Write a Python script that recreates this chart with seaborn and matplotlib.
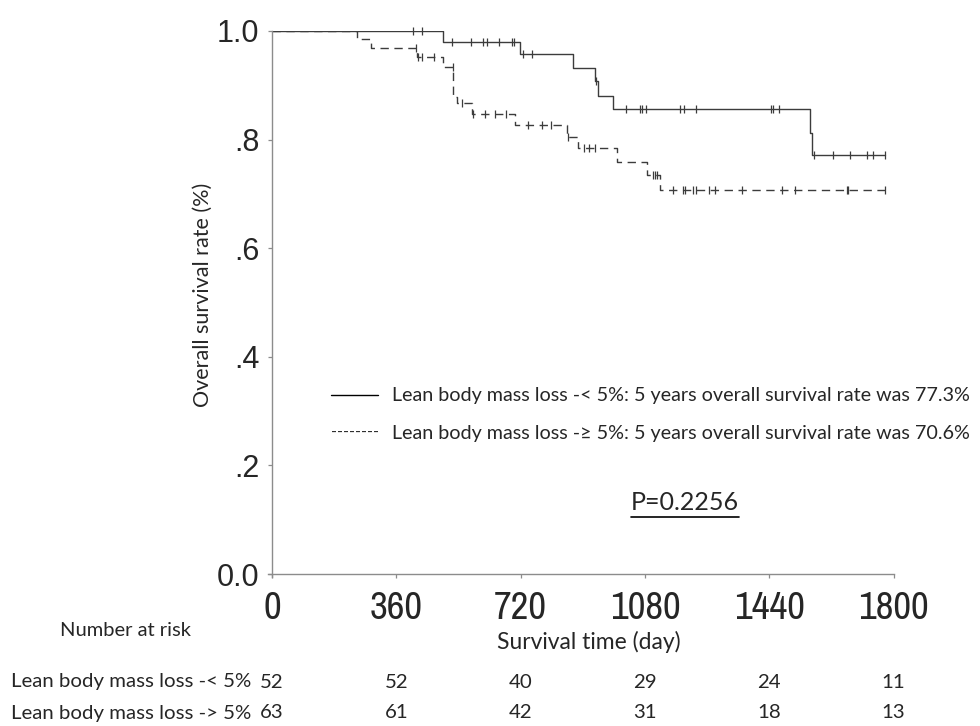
import numpy as np
import matplotlib
matplotlib.use("Agg")
import matplotlib.pyplot as plt
import matplotlib.transforms as mtransforms
from matplotlib.lines import Line2D
import seaborn as sns

# Kaplan-Meier steps (day, survival after the drop)
lo_event_days = [494, 718, 871, 935, 945, 987, 1558, 1565]
lo_event_surv = [0.980, 0.957, 0.931, 0.907, 0.880, 0.856, 0.813, 0.772]
lo_censor_days = [409, 433, 520, 575, 612, 623, 658, 694, 701, 726, 752, 939,
                  1024, 1066, 1071, 1083, 1183, 1193, 1228, 1444, 1452, 1469,
                  1570, 1625, 1674, 1724, 1740, 1775]

hi_event_days = [245, 286, 419, 496, 525, 535, 578, 704, 853, 887, 1000, 1087, 1124]
hi_event_surv = [0.985, 0.969, 0.953, 0.934, 0.879, 0.867, 0.847, 0.827, 0.805,
                 0.785, 0.759, 0.735, 0.707]
hi_censor_days = [416, 424, 435, 469, 523, 549, 583, 617, 646, 678, 742, 781, 807,
                  858, 904, 919, 935, 1104, 1109, 1116, 1162, 1189, 1196, 1218,
                  1228, 1266, 1283, 1360, 1476, 1515, 1664, 1669, 1775]

x_ticks = [0, 360, 720, 1080, 1440, 1800]
y_ticks = [0.0, 0.2, 0.4, 0.6, 0.8, 1.0]
y_tick_labels = ["0.0", ".2", ".4", ".6", ".8", "1.0"]

lo_label = "Lean body mass loss -< 5%"
hi_label = "Lean body mass loss -> 5%"
lo_at_risk = [52, 52, 40, 29, 24, 11]
hi_at_risk = [63, 61, 42, 31, 18, 13]

legend_lo = "Lean body mass loss -< 5%: 5 years overall survival rate was 77.3%"
legend_hi = "Lean body mass loss -\u2265 5%: 5 years overall survival rate was 70.6%"
p_text = "P=0.2256"

W, H = 980, 726
sns.set_theme(style="white")
text_font = ["Lato", "DejaVu Sans"]
plt.rcParams["font.family"] = text_font

fig = plt.figure(figsize=(W / 100, H / 100), dpi=100)
ax = fig.add_axes([272 / W, 1 - 574 / H, (893.5 - 272) / W, (574 - 31) / H])

curve_color = "#3c3c3c"
axis_color = "#8c8c8c"


def step_table(days, surv, censors):
    end = max(censors)
    xs = [0] + days + [end]
    ys = [1.0] + surv + [surv[-1]]
    return xs, ys


def surv_at(days, surv, t):
    idx = np.searchsorted(days, t, side="right")
    return 1.0 if idx == 0 else surv[idx - 1]


for days, surv, cens, dash in [
    (lo_event_days, lo_event_surv, lo_censor_days, None),
    (hi_event_days, hi_event_surv, hi_censor_days, (6, 4)),
]:
    xs, ys = step_table(days, surv, cens)
    line = sns.lineplot(x=xs, y=ys, ax=ax, drawstyle="steps-post", color=curve_color,
                        linewidth=1.0, estimator=None, sort=False)
    if dash is not None:
        line.lines[-1].set_dashes(dash)
    cy = [surv_at(days, surv, t) for t in cens]
    ax.plot(cens, cy, linestyle="none", marker="|", markersize=6,
            markeredgewidth=0.9, color=curve_color, clip_on=False)

ax.set_xlim(0, 1800)
ax.set_ylim(0, 1)
ax.set_xticks(x_ticks)
ax.set_xticklabels([str(v) for v in x_ticks], fontsize=28,
                   family=["Liberation Sans Narrow", "Archivo Narrow", "DejaVu Sans"])
ax.set_yticks(y_ticks)
ax.set_yticklabels(y_tick_labels, fontsize=22, family=["Liberation Sans"])
ax.tick_params(axis="both", direction="out", length=3, width=0.9, color=axis_color,
               bottom=True, left=True)
ax.tick_params(axis="x", pad=9)
ax.tick_params(axis="y", pad=6)
# end mark of the time axis crosses the line
ax.set_xticks([1800], minor=True)
ax.tick_params(axis="x", which="minor", direction="inout", length=12, width=0.9,
               color=axis_color, bottom=True)
for side in ["top", "right"]:
    ax.spines[side].set_visible(False)
for side in ["left", "bottom"]:
    ax.spines[side].set_color(axis_color)
    ax.spines[side].set_linewidth(1.0)
ax.spines["bottom"].set_bounds(-12, 1800)
ax.spines["left"].set_bounds(-0.006, 1)
ax.set_xlabel("")
ax.set_ylabel("")


def fx(px):
    return px / W


def fy(py):
    return 1 - py / H


fs = 14.2
# legend, typed as text in the original
fig.add_artist(Line2D([fx(331), fx(378)], [fy(395), fy(395)], color="black", linewidth=1.0))
fig.text(fx(392), fy(395), legend_lo, fontsize=fs, va="center", ha="left")
fig.text(fx(379), fy(433), "--------", fontsize=11.5, va="center", ha="right")
fig.text(fx(392), fy(433), legend_hi, fontsize=fs, va="center", ha="left")
p = fig.text(fx(685), fy(503), p_text, fontsize=18, va="center", ha="center")
fig.canvas.draw()
bb = p.get_window_extent()
fig.add_artist(Line2D([bb.x0 / W, bb.x1 / W], [fy(517), fy(517)], color="black", linewidth=1.2))

fig.text(fx(203), fy(295), "Overall survival rate (%)", fontsize=15.5, rotation=90,
         va="center", ha="center")
fig.text(fx(125), fy(630), "Number at risk", fontsize=14.5, va="center", ha="center")
fig.text(fx(589), fy(642), "Survival time (day)", fontsize=16.5, va="center", ha="center")

blend = mtransforms.blended_transform_factory(ax.transData, fig.transFigure)
for label, counts, py in [(lo_label, lo_at_risk, 682), (hi_label, hi_at_risk, 713)]:
    fig.text(fx(11), fy(py), label, fontsize=14.7, va="center", ha="left")
    for t, n in zip(x_ticks, counts):
        ax.text(t, fy(py), str(n), transform=blend, fontsize=14.7, va="center",
                ha="center", clip_on=False)

fig.savefig("out.png", dpi=100)
